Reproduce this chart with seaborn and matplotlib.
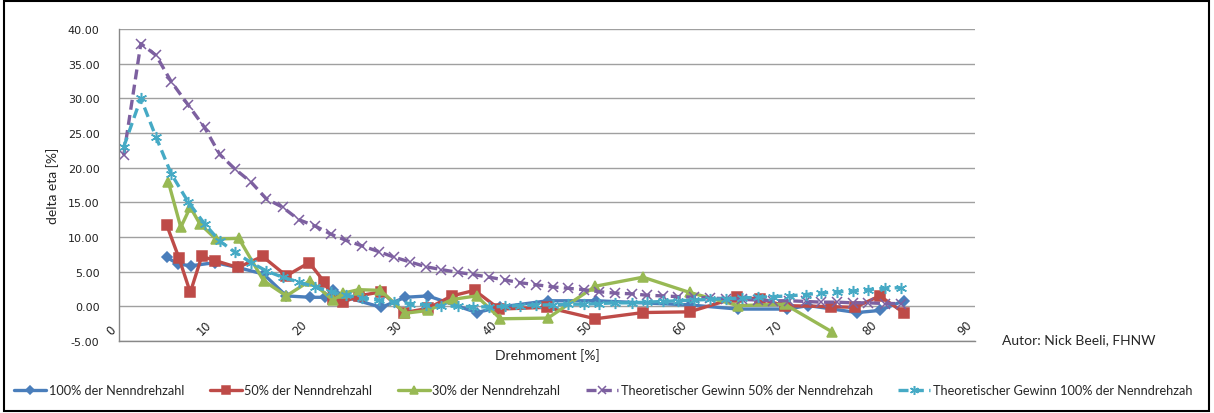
import numpy as np
import pandas as pd
import matplotlib
matplotlib.use("Agg")
import matplotlib.pyplot as plt
from matplotlib.patches import Rectangle
import seaborn as sns

# Measured series (Drehmoment [%] -> delta eta [%])
x_100 = [5.0, 6.2, 7.6, 10.1, 12.5, 15.2, 17.6, 20.1, 21.7, 22.5, 23.9, 27.6, 30.1, 32.5,
         37.6, 40.1, 45.1, 50.2, 60.0, 65.1, 70.2, 72.5, 77.6, 80.0, 82.5]
y_100 = [7.1, 6.1, 5.85, 6.3, 5.6, 4.65, 1.5, 1.3, 1.3, 2.4, 1.3, -0.15, 1.3, 1.5,
         -0.9, -0.1, 0.8, 0.8, 0.2, -0.4, -0.4, 0.1, -0.9, -0.6, 0.8]

x_50 = [5.0, 6.3, 7.5, 8.7, 10.1, 12.5, 15.1, 17.6, 20.0, 21.6, 22.5, 23.6, 25.2, 27.6, 30.0,
        32.5, 35.0, 37.4, 40.0, 45.0, 50.1, 55.1, 60.0, 65.0, 67.4, 70.0, 74.9, 77.4, 80.0, 82.5]
y_50 = [11.8, 7.0, 2.0, 7.2, 6.6, 5.6, 7.2, 4.4, 6.3, 3.5, 1.1, 0.6, 1.5, 2.1, -0.9,
        -0.3, 1.5, 2.3, -0.4, -0.15, -1.8, -0.9, -0.8, 1.3, 1.05, 0.1, -0.05, -0.15, 1.5, -0.9]

x_30 = [5.2, 6.5, 7.5, 8.5, 10.2, 12.6, 15.2, 17.6, 20.1, 22.5, 23.6, 25.2, 27.5, 30.1, 32.5,
        35.1, 37.6, 40.1, 45.1, 50.1, 55.1, 60.0, 65.1, 70.0, 75.0]
y_30 = [17.9, 11.4, 14.3, 11.9, 9.7, 9.8, 3.7, 1.5, 3.7, 0.9, 1.9, 2.4, 2.3, -1.0, -0.6,
        1.0, 1.5, -1.8, -1.7, 2.9, 4.2, 2.0, 0.1, 0.3, -3.7]

# Theoretical curves share the same torque points
x_theo = [0.5, 2.3, 3.9, 5.5, 7.3, 9.0, 10.6, 12.2, 13.9, 15.5, 17.2, 18.9, 20.6, 22.3, 23.9,
          25.6, 27.3, 28.9, 30.6, 32.3, 33.9, 35.6, 37.2, 38.9, 40.6, 42.2, 43.9, 45.6, 47.2,
          48.9, 50.5, 52.2, 53.9, 55.5, 57.2, 58.8, 60.5, 62.2, 63.8, 65.5, 67.2, 68.8, 70.5,
          72.2, 73.8, 75.5, 77.2, 78.8, 80.5, 82.2]
y_theo_50 = [21.8, 37.9, 36.2, 32.4, 29.0, 25.8, 21.9, 19.8, 17.9, 15.5, 14.3, 12.5, 11.6, 10.4, 9.5,
             8.7, 7.9, 7.1, 6.4, 5.7, 5.3, 4.9, 4.6, 4.2, 3.8, 3.4, 3.1, 2.8, 2.6,
             2.4, 2.1, 1.9, 1.8, 1.6, 1.5, 1.4, 1.3, 1.2, 1.1, 1.0, 0.9, 0.8, 0.8,
             0.7, 0.6, 0.6, 0.5, 0.5, 0.4, 0.4]
y_theo_100 = [23.0, 30.0, 24.4, 19.1, 15.0, 11.9, 9.4, 7.8, 6.3, 5.1, 4.2, 3.5, 2.8, 2.1, 1.6,
              1.2, 0.9, 0.6, 0.4, 0.2, 0.05, 0.0, -0.05, -0.1, 0.0, 0.1, 0.2, 0.2, 0.3,
              0.3, 0.4, 0.5, 0.5, 0.6, 0.7, 0.8, 0.9, 1.0, 1.1, 1.2, 1.3, 1.4, 1.5,
              1.7, 1.9, 2.1, 2.2, 2.4, 2.6, 2.7]

labels = ["100% der Nenndrehzahl", "50% der Nenndrehzahl", "30% der Nenndrehzahl",
          "Theoretischer Gewinn 50% der Nenndrehzah", "Theoretischer Gewinn 100% der Nenndrehzah"]
y_ticks = [-5, 0, 5, 10, 15, 20, 25, 30, 35, 40]
x_ticks = [0, 10, 20, 30, 40, 50, 60, 70, 80, 90]

sns.set_style("white")
plt.rcParams['font.family'] = ['Lato', 'DejaVu Sans']

fig = plt.figure(figsize=(12.14, 4.14), dpi=100)
ax = fig.add_axes([0.098, 0.174, 0.705, 0.7535])

series = [
    (x_100, y_100, "#4A7EBB", "D", 5, "-"),
    (x_50, y_50, "#BE4B48", "s", 6.5, "-"),
    (x_30, y_30, "#98B954", "^", 6.5, "-"),
    (x_theo, y_theo_50, "#7D60A0", "x", 7, (0, (3, 1.6))),
    (x_theo, y_theo_100, "#46AAC5", (6, 2, 0), 8, (0, (3, 1.6))),
]
for (xs, ys, col, mk, ms, ls), lab in zip(series, labels):
    df = pd.DataFrame({"x": xs, "y": ys})
    sns.lineplot(data=df, x="x", y="y", ax=ax, color=col, marker=mk, markersize=ms,
                 linestyle=ls, linewidth=2.4, markeredgecolor=col, markeredgewidth=1.1,
                 sort=False, estimator=None, label=lab)

ax.set_xlim(0, 90)
ax.set_ylim(-5, 40)
ax.set_yticks(y_ticks)
ax.set_yticklabels([f"{v:.2f}" for v in y_ticks], family="DejaVu Sans", fontsize=8, color="#222222")
ax.set_xticks(x_ticks)
ax.set_xticklabels([str(v) for v in x_ticks], rotation=45, ha="right", va="bottom",
                   family="DejaVu Sans", fontsize=8.3, color="#222222")
ax.tick_params(axis="x", length=0, pad=-3)
ax.tick_params(axis="y", length=4, color="#888888", direction="out", pad=10)
ax.yaxis.grid(True, color="#a0a0a0", linewidth=1.0)
ax.set_axisbelow(True)
for s in ["top", "right"]:
    ax.spines[s].set_visible(False)
for s in ["left", "bottom"]:
    ax.spines[s].set_color("#888888")
    ax.spines[s].set_linewidth(1.0)

ax.set_xlabel("Drehmoment [%]", fontsize=10, labelpad=5)
ax.set_ylabel("delta eta [%]", fontsize=10, labelpad=6)

fig.text(0.889, 0.178, "Autor: Nick Beeli, FHNW", fontsize=10, ha="center", va="center")

handles, labs = ax.get_legend_handles_labels()
ax.legend_.remove()
leg = fig.legend(handles, labs, loc="center", bbox_to_anchor=(0.497, 0.055), ncol=5, frameon=False,
                 fontsize=9.2, handlelength=2.5, columnspacing=2.0, handletextpad=0.2,
                 markerscale=0.8, borderaxespad=0, borderpad=0)

fig.add_artist(Rectangle((0.003, 0.006), 0.993, 0.99, transform=fig.transFigure,
                         fill=False, edgecolor="black", linewidth=1.5))

fig.savefig("out.png", dpi=100)
